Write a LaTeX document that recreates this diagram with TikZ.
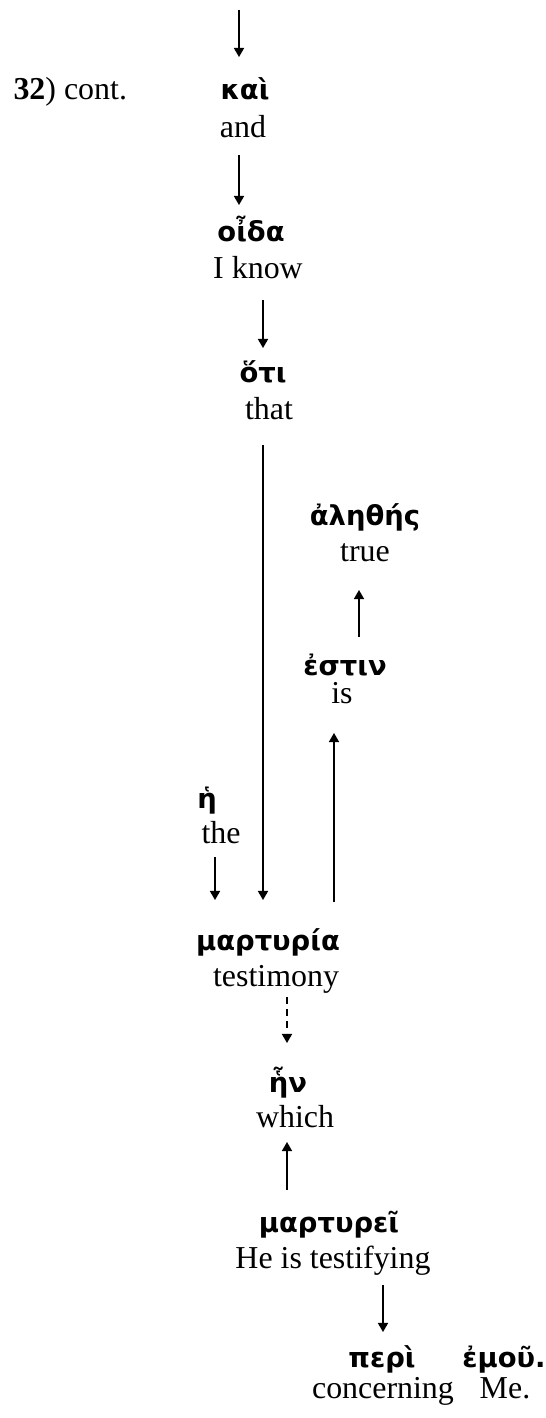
\documentclass[tikz,border=0pt]{standalone}
\usepackage{fontspec}
\setmainfont{Liberation Serif}
\newfontfamily\greekfont{DejaVu Sans}
\usetikzlibrary{arrows.meta,calc}
\begin{document}
\begin{tikzpicture}[x=0.376pt,y=-0.376pt,
  gk/.style={inner sep=0pt,anchor=base,font=\greekfont\bfseries\fontsize{10.3}{12}\selectfont},
  en/.style={inner sep=0pt,anchor=base,font=\fontsize{12}{14}\selectfont},
  arr/.style={-{Triangle[length=3.4pt,width=3.8pt]},line width=0.5pt},
  dsh/.style={arr,dash pattern=on 2.6pt off 2pt}]
\useasboundingbox (0,0) rectangle (545,1418);
\node[en,anchor=base west] (cont) at (13,99) {\textbf{32}) cont.};
\node[gk] (kai) at (245,99) {καὶ};
\node[en] (and) at (243,137) {and};
\node[gk] (oida) at (251,241) {οἶδα};
\node[en] (iknow) at (258,278) {I know};
\node[gk] (oti) at (263,382) {ὅτι};
\node[en] (that) at (269,419) {that};
\node[gk] (alethes) at (365,525) {ἀληθής};
\node[en] (true) at (365,561) {true};
\node[gk] (estin) at (345,675) {ἐστιν};
\node[en] (is) at (342,703) {is};
\node[gk] (he) at (207,808) {ἡ};
\node[en] (the) at (221,843) {the};
\node[gk] (marturia) at (268,950) {μαρτυρία};
\node[en] (testimony) at (276,986) {testimony};
\node[gk] (hn) at (288,1092) {ἧν};
\node[en] (which) at (295,1127) {which};
\node[gk] (marturei) at (329,1232) {μαρτυρεῖ};
\node[en] (testifying) at (333,1268) {He is testifying};
\node[gk] (peri) at (382,1367) {περὶ};
\node[gk] (emou) at (504,1367) {ἐμοῦ.};
\node[en] (concerning) at (383,1398) {concerning};
\node[en] (me) at (505,1398) {Me.};
\coordinate (top) at (239,10);
\draw[arr] (top) -- ($(kai.base)+(-6,-42)$);
\draw[arr] ($(and.base)+(-4,18)$) -- ($(oida.base)+(-12,-36)$);
\draw[arr] ($(iknow.base)+(5,22)$) -- ($(oti.base)+(0,-34)$);
\draw[arr] ($(that.base)+(-6,26)$) -- ($(marturia.base)+(-5,-50)$);
\draw[arr] ($(the.base)+(-6,14)$) -- ($(marturia.base)+(-53,-50)$);
\draw[arr] ($(marturia.base)+(66,-48)$) -- ($(is.base)+(-8,30)$);
\draw[arr] ($(estin.base)+(14,-38)$) -- ($(true.base)+(-6,29)$);
\draw[dsh] ($(testimony.base)+(11,11)$) -- ($(hn.base)+(-1,-49)$);
\draw[arr] ($(marturei.base)+(-42,-42)$) -- ($(which.base)+(-8,15)$);
\draw[arr] ($(testifying.base)+(50,17)$) -- ($(peri.base)+(1,-35)$);
\end{tikzpicture}
\end{document}
